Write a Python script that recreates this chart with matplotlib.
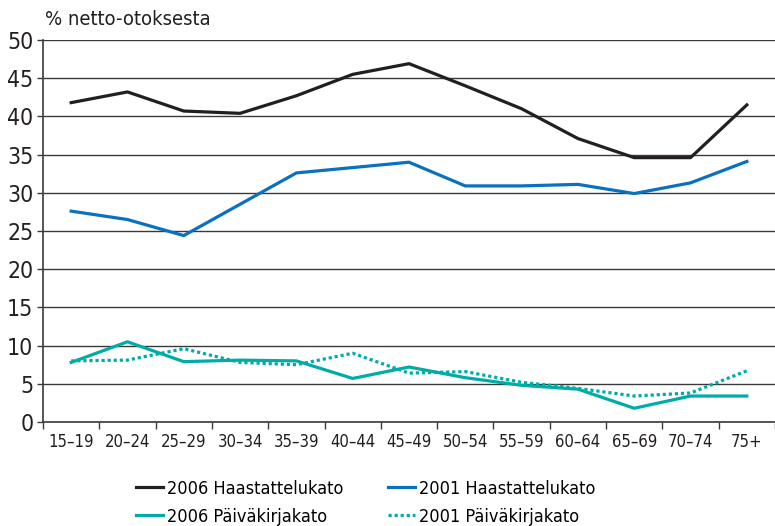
import matplotlib
matplotlib.use("Agg")
import matplotlib.pyplot as plt
import numpy as np

plt.rcParams["font.family"] = ["DejaVu Sans"]
plt.rcParams["font.stretch"] = "condensed"

# data
age_groups = ["15–19", "20–24", "25–29", "30–34", "35–39", "40–44", "45–49",
              "50–54", "55–59", "60–64", "65–69", "70–74", "75+"]
haast_2006 = [41.8, 43.2, 40.7, 40.4, 42.7, 45.5, 46.9, 44.0, 41.0, 37.1, 34.6, 34.6, 41.5]
haast_2001 = [27.6, 26.5, 24.4, 28.5, 32.6, 33.3, 34.0, 30.9, 30.9, 31.1, 29.9, 31.3, 34.1]
paiv_2006 = [7.8, 10.5, 7.9, 8.1, 8.0, 5.7, 7.2, 5.8, 4.8, 4.3, 1.8, 3.4, 3.4]
paiv_2001 = [8.0, 8.1, 9.6, 7.8, 7.5, 9.0, 6.4, 6.6, 5.2, 4.4, 3.4, 3.8, 6.7]
y_ticks = [0, 5, 10, 15, 20, 25, 30, 35, 40, 45, 50]

BLACK = "#231f20"
BLUE = "#0a70c0"
TEAL = "#00aca8"
GRID = "#3a3a3a"

fig = plt.figure(figsize=(7.75, 5.26), dpi=100)
ax = fig.add_axes([0.0555, 0.1977, 0.9445, 0.7263])

x = np.arange(len(age_groups))
lw = 2.3
l1, = ax.plot(x, haast_2006, color=BLACK, lw=lw, label="2006 Haastattelukato")
l2, = ax.plot(x, haast_2001, color=BLUE, lw=lw, label="2001 Haastattelukato")
l3, = ax.plot(x, paiv_2006, color=TEAL, lw=lw, label="2006 Päiväkirjakato")
l4, = ax.plot(x, paiv_2001, color=TEAL, lw=lw, ls=(0, (1, 0.9)),
              label="2001 Päiväkirjakato")

ax.set_xlim(-0.5, len(age_groups) - 0.5)
ax.set_ylim(0, 50)
ax.set_yticks(y_ticks)
ax.set_yticklabels([str(v) for v in y_ticks], fontsize=16.5, color=BLACK)
ax.set_xticks(x)
ax.set_xticklabels(age_groups, fontsize=12, color=BLACK)
ax.set_xticks(np.arange(-0.5, len(age_groups) - 0.4, 1), minor=True)
ax.tick_params(axis="x", which="major", length=0, pad=8)
ax.tick_params(axis="x", which="minor", length=5, width=1, color=GRID)
ax.tick_params(axis="y", length=4, width=1, color=GRID, pad=3)

ax.yaxis.grid(True, color=GRID, linewidth=1.0)
ax.set_axisbelow(True)
for side in ("top", "right"):
    ax.spines[side].set_visible(False)
ax.spines["left"].set_color(GRID)
ax.spines["bottom"].set_color(GRID)
ax.spines["left"].set_linewidth(1.2)
ax.spines["bottom"].set_linewidth(1.2)

fig.text(0.058, 0.962, "% netto-otoksesta", fontsize=14.5, color=BLACK,
         ha="left", va="center")

fig.legend(handles=[l1, l3, l2, l4], ncol=2, loc="upper left",
           bbox_to_anchor=(0.1755, 0.088), frameon=False, fontsize=13,
           handlelength=1.5, handletextpad=0.2, columnspacing=2.5,
           labelspacing=0.55, borderpad=0, borderaxespad=0)

fig.savefig("out.png", dpi=100)
